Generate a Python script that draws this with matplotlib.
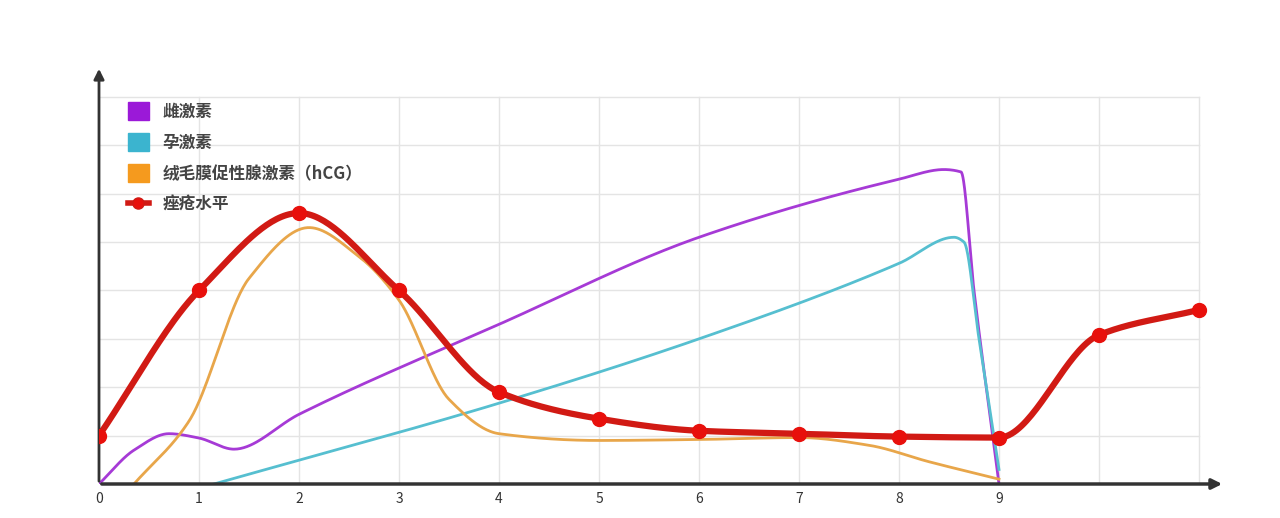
import numpy as np
import matplotlib
matplotlib.use("Agg")
import matplotlib.pyplot as plt
plt.rcParams['font.family'] = ['Noto Sans CJK SC', 'DejaVu Sans']

labels = ["雌激素", "孕激素", "绒毛膜促性腺激素（hCG）", "痤疮水平"]
acne_x = [0, 1, 2, 3, 4, 5, 6, 7, 8, 9, 10, 11]
acne_y = [1.0, 4.0, 5.6, 4.0, 1.9, 1.35, 1.1, 1.04, 0.98, 0.96, 3.08, 3.6]
estro_x = [0, 0.35, 0.7, 1.0, 1.35, 2, 4, 6, 8, 8.45, 8.62, 8.75, 9.0]
estro_y = [0, 0.7, 1.04, 0.95, 0.72, 1.44, 3.3, 5.1, 6.3, 6.5, 6.45, 4.0, 0.0]
prog_x = [1.15, 4, 6, 8, 8.55, 8.65, 8.8, 9.0]
prog_y = [0, 1.67, 3.0, 4.56, 5.1, 5.0, 3.0, 0.3]
hcg_x = [0.35, 0.9, 1.5, 2.1, 2.6, 3.0, 3.5, 4, 5, 6, 7, 7.7, 8.3, 9.0]
hcg_y = [0, 1.3, 4.25, 5.3, 4.7, 3.8, 1.75, 1.04, 0.9, 0.92, 0.96, 0.8, 0.46, 0.1]
xticks = [0, 1, 2, 3, 4, 5, 6, 7, 8, 9]

def pchip(x, y, n=40):
    x = np.asarray(x, float); y = np.asarray(y, float)
    h = np.diff(x); d = np.diff(y) / h
    m = np.zeros_like(y)
    for i in range(1, len(x) - 1):
        if d[i-1] * d[i] > 0:
            w1 = 2*h[i] + h[i-1]; w2 = h[i] + 2*h[i-1]
            m[i] = (w1 + w2) / (w1/d[i-1] + w2/d[i])
    m[0] = d[0]; m[-1] = d[-1]
    xs, ys = [], []
    for i in range(len(x) - 1):
        t = np.linspace(0, 1, n, endpoint=False)
        h00 = 2*t**3 - 3*t**2 + 1; h10 = t**3 - 2*t**2 + t
        h01 = -2*t**3 + 3*t**2; h11 = t**3 - t**2
        xs.append(x[i] + t*h[i])
        ys.append(h00*y[i] + h10*h[i]*m[i] + h01*y[i+1] + h11*h[i]*m[i+1])
    xs.append([x[-1]]); ys.append([y[-1]])
    return np.concatenate(xs), np.concatenate(ys)

fig = plt.figure(figsize=(12.8, 5.18), dpi=100)
ax = fig.add_axes([99/1280, 34/518, (1225-99)/1280, (484-66)/518])
ax.set_xlim(0, 11.26)
ax.set_ylim(0, 8.64)
for gx in range(1, 12):
    ax.plot([gx, gx], [0, 8], color='#e4e4e4', lw=1, zorder=0)
for gy in range(1, 9):
    ax.plot([0, 11], [gy, gy], color='#e4e4e4', lw=1, zorder=0)

c1, c2, c3, c4 = '#a63ad6', '#56bfd0', '#e8a64a', '#d11a14'
ax.plot(*pchip(estro_x, estro_y), color=c1, lw=2, zorder=2)
ax.plot(*pchip(prog_x, prog_y), color=c2, lw=2, zorder=2)
ax.plot(*pchip(hcg_x, hcg_y), color=c3, lw=2, zorder=2)
ax.plot(*pchip(acne_x, acne_y), color=c4, lw=4.5, zorder=3)
ax.plot(acne_x, acne_y, 'o', color='#e8100c', ms=10, zorder=4)

for s in ax.spines.values():
    s.set_visible(False)
ax.annotate('', xy=(11.26, 0), xytext=(0, 0), xycoords='data',
            arrowprops=dict(arrowstyle='-|>', color='#333333', lw=2.5, mutation_scale=15), annotation_clip=False)
ax.annotate('', xy=(0, 8.64), xytext=(0, 0),
            arrowprops=dict(arrowstyle='-|>', color='#333333', lw=2, mutation_scale=15), annotation_clip=False)
ax.set_yticks([])
ax.set_xticks(xticks)
ax.tick_params(axis='x', length=0, labelsize=10, colors='#333333', pad=6)

from matplotlib.patches import Rectangle
from matplotlib.lines import Line2D
handles = [Rectangle((0, 0), 1, 1, color='#9b19d8'), Rectangle((0, 0), 1, 1, color='#3bb4cf'),
           Rectangle((0, 0), 1, 1, color='#f59a1e'),
           Line2D([], [], color=c4, lw=4, marker='o', ms=8, markerfacecolor='#e8100c')]
leg = ax.legend(handles, labels, loc='upper left', bbox_to_anchor=(0.012, 0.95), frameon=False,
                prop={'size': 12, 'weight': 'bold'}, handlelength=1.3, handleheight=1.3,
                labelspacing=0.75, handletextpad=0.8)
for t in leg.get_texts():
    t.set_color('#444444')
fig.savefig('out.png', dpi=100)
